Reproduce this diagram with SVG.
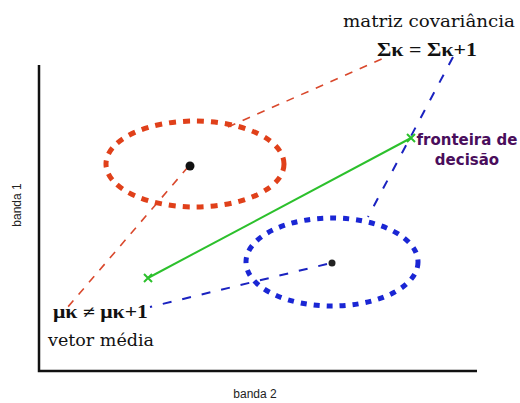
<svg xmlns="http://www.w3.org/2000/svg" width="520" height="403" viewBox="0 0 520 403">
<style>
.axis{fill:none;stroke:#111;stroke-width:2.5}
.lbl{font-family:"Liberation Sans",Arial,sans-serif;font-size:12px;fill:#222}
.serif{font-family:"DejaVu Serif","Liberation Serif",serif;fill:#111}
.eq{font-family:"Liberation Serif","DejaVu Serif",serif;font-weight:bold;font-size:18px;fill:#111}
.fr{font-family:"DejaVu Sans","Liberation Sans",sans-serif;font-weight:bold;font-size:15px;fill:#4a0e5c}
.rdash{fill:none;stroke:#d9482c;stroke-width:1.6;stroke-dasharray:8 8}
.bdash{fill:none;stroke:#1a22c0;stroke-width:2;stroke-dasharray:9 11}
.rell{fill:none;stroke:#e0401a;stroke-width:5;stroke-dasharray:7 7}
.bell{fill:none;stroke:#1a26d4;stroke-width:5;stroke-dasharray:6 7}
.green{fill:none;stroke:#2cc02c;stroke-width:2}
</style>
<rect width="520" height="403" fill="#fff"/>
<g id="axes">
<polyline class="axis" points="39,65 39,371 477,371"/>
<text class="lbl" x="255" y="398" text-anchor="middle">banda 2</text>
<text class="lbl" transform="translate(21,205) rotate(-90)" text-anchor="middle">banda 1</text>
</g>
<g id="connectors">
<line class="rdash" x1="188" y1="167" x2="67" y2="308"/>
<line class="rdash" x1="228" y1="127" x2="384" y2="58"/>
<line class="bdash" x1="327" y1="264" x2="150" y2="307"/>
<line class="bdash" x1="453" y1="57" x2="368" y2="217"/>
<line class="green" x1="148" y1="278" x2="411" y2="138"/>
<path class="green" d="M144,274 L152,282 M144,282 L152,274 M407,134 L415,142 M407,142 L415,134"/>
</g>
<g id="red-class">
<ellipse class="rell" cx="195" cy="164" rx="89" ry="43"/>
<circle cx="190" cy="166" r="4.5" fill="#111"/>
</g>
<g id="blue-class">
<ellipse class="bell" cx="332" cy="262" rx="86" ry="44"/>
<circle cx="332" cy="263" r="3.5" fill="#222"/>
</g>
<g id="cov-label">
<text class="serif" x="343" y="27" font-size="16" textLength="172" lengthAdjust="spacingAndGlyphs">matriz covariância</text>
<text class="eq" x="377" y="56" textLength="100" lengthAdjust="spacingAndGlyphs">Σκ = Σκ+1</text>
</g>
<g id="mean-label">
<text class="eq" x="53" y="318" textLength="95" lengthAdjust="spacingAndGlyphs">μκ ≠ μκ+1</text>
<text class="serif" x="48" y="346" font-size="16" textLength="106" lengthAdjust="spacingAndGlyphs">vetor média</text>
</g>
<g id="boundary-label">
<text class="fr" x="467" y="145" text-anchor="middle">fronteira de</text>
<text class="fr" x="467" y="165" text-anchor="middle">decisão</text>
</g>
</svg>
